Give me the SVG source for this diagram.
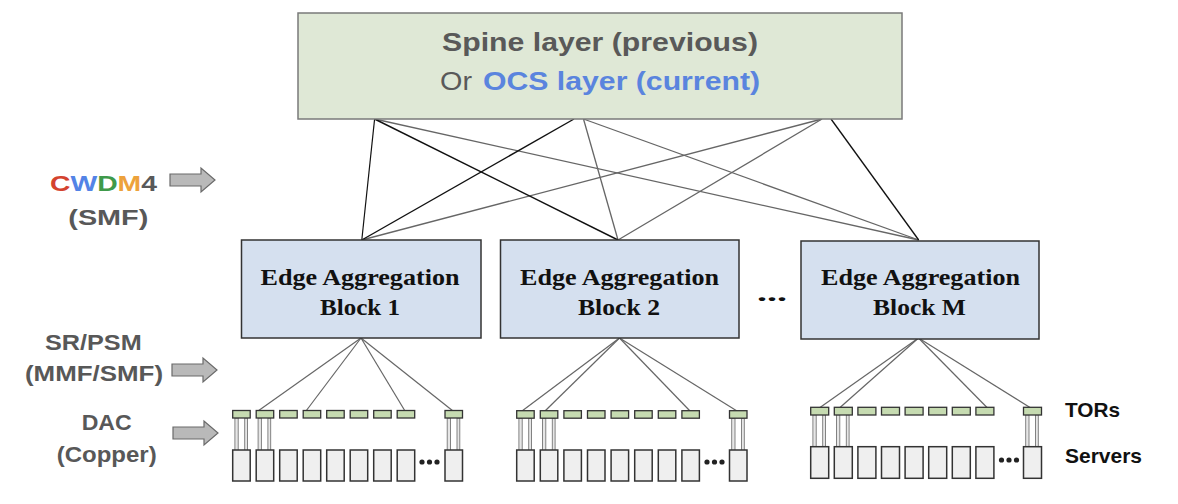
<svg xmlns="http://www.w3.org/2000/svg" width="1178" height="504" viewBox="0 0 1178 504">
<style>
  .sans { font-family: "Liberation Sans", Arial, sans-serif; font-weight: bold; }
  .serif { font-family: "Liberation Serif", "Times New Roman", serif; font-weight: bold; fill: #111; font-size: 23px; }
  .lbl { fill: #585858; font-size: 22px; }
  .blk { fill: #d5e0ef; stroke: #333; stroke-width: 1.5; }
  .tor { fill: #c6dbb1; stroke: #333; stroke-width: 1.3; }
  .srv { fill: #efefef; stroke: #333; stroke-width: 1.5; }
  .cab { fill: #e6e6e6; stroke: #777; stroke-width: 0.9; }
  .dl { stroke: #666; stroke-width: 1.2; fill: none; }
  .blackln { stroke: #111; stroke-width: 1.4; fill: none; }
  .grayln { stroke: #666; stroke-width: 1.3; fill: none; }
  .arr { fill: #b9b9b9; stroke: #6a6a6a; stroke-width: 1.2; }
</style>
<defs>
  <path id="barrow" d="M0,-6 H31 V-12 L45,0 L31,12 V6 H0 Z"/>
  <g id="torcab">
    <rect class="cab" x="2.2" y="7.5" width="3.3" height="38.5"/>
    <rect class="cab" x="12" y="7.5" width="2.8" height="59"/>
  </g>
</defs>
<rect width="1178" height="504" fill="#ffffff"/>

<!-- connectors -->
<g id="connectors">
  <line class="grayln" x1="374.6" y1="119" x2="918.7" y2="240"/>
  <line class="grayln" x1="583.5" y1="119" x2="618" y2="240"/>
  <line class="grayln" x1="583.5" y1="119" x2="918.7" y2="240"/>
  <line class="grayln" x1="822" y1="119" x2="361.8" y2="240"/>
  <line class="grayln" x1="822" y1="119" x2="618" y2="240"/>
  <line class="blackln" x1="374.6" y1="119" x2="361.8" y2="240" style="stroke-width:1.2"/>
  <line class="blackln" x1="374.6" y1="119" x2="618" y2="240"/>
  <line class="blackln" x1="574" y1="119" x2="361.8" y2="240"/>
  <line class="blackln" x1="831" y1="119" x2="918.7" y2="240" style="stroke-width:1.3"/>

  <line class="dl" x1="361" y1="338" x2="258" y2="411"/>
  <line class="dl" x1="361" y1="338" x2="306" y2="411"/>
  <line class="dl" x1="361" y1="338" x2="405" y2="411"/>
  <line class="dl" x1="361" y1="338" x2="453" y2="411"/>

  <line class="dl" x1="619.5" y1="338" x2="522" y2="411"/>
  <line class="dl" x1="619.5" y1="338" x2="545" y2="411"/>
  <line class="dl" x1="619.5" y1="338" x2="690" y2="411"/>
  <line class="dl" x1="619.5" y1="338" x2="737" y2="411"/>

  <line class="dl" x1="918.5" y1="338" x2="820" y2="407.5"/>
  <line class="dl" x1="918.5" y1="338" x2="840" y2="407.5"/>
  <line class="dl" x1="918.5" y1="338" x2="987" y2="407.5"/>
  <line class="dl" x1="918.5" y1="338" x2="1030" y2="407.5"/>
</g>

<!-- spine -->
<g id="spine">
  <rect x="298" y="13" width="604" height="106" fill="#dfe8d6" stroke="#7a7a7a" stroke-width="1.5"/>
  <text class="sans" x="442" y="51" font-size="26" fill="#595959" textLength="316" lengthAdjust="spacingAndGlyphs">Spine layer (previous)</text>
  <text x="440" y="90" font-family="Liberation Sans, Arial, sans-serif" font-size="26" fill="#595959" textLength="32" lengthAdjust="spacingAndGlyphs">Or</text>
  <text class="sans" x="483" y="90" font-size="26" fill="#5a84de" textLength="277" lengthAdjust="spacingAndGlyphs">OCS layer (current)</text>
</g>

<!-- edge aggregation blocks -->
<g id="block1">
  <rect class="blk" x="241.5" y="240" width="239.5" height="98"/>
  <text class="serif" x="260.5" y="285" textLength="199" lengthAdjust="spacingAndGlyphs">Edge Aggregation</text>
  <text class="serif" x="320" y="315" textLength="80" lengthAdjust="spacingAndGlyphs">Block 1</text>
</g>
<g id="block2">
  <rect class="blk" x="500.5" y="240" width="238.5" height="98"/>
  <text class="serif" x="520" y="285" textLength="199" lengthAdjust="spacingAndGlyphs">Edge Aggregation</text>
  <text class="serif" x="578" y="315" textLength="82" lengthAdjust="spacingAndGlyphs">Block 2</text>
</g>
<text id="block-ellipsis" class="serif" x="757" y="301" textLength="30" lengthAdjust="spacingAndGlyphs">...</text>
<g id="blockM">
  <rect class="blk" x="801" y="241" width="238" height="98"/>
  <text class="serif" x="821" y="285" textLength="199" lengthAdjust="spacingAndGlyphs">Edge Aggregation</text>
  <text class="serif" x="873" y="315" textLength="93" lengthAdjust="spacingAndGlyphs">Block M</text>
</g>

<!-- TORs and servers, group 1 -->
<g id="rack1">
  <g id="rack1-cables">
    <use href="#torcab" x="232.7" y="410.5"/>
    <use href="#torcab" x="255.9" y="410.5"/>
    <use href="#torcab" x="445" y="410.5"/>
  </g>
  <g id="rack1-servers">
    <rect class="srv" x="232.7" y="450" width="17.5" height="31"/>
    <rect class="srv" x="256.2" y="450" width="17.5" height="31"/>
    <rect class="srv" x="279.7" y="450" width="17.5" height="31"/>
    <rect class="srv" x="303.2" y="450" width="17.5" height="31"/>
    <rect class="srv" x="326.7" y="450" width="17.5" height="31"/>
    <rect class="srv" x="350.2" y="450" width="17.5" height="31"/>
    <rect class="srv" x="373.7" y="450" width="17.5" height="31"/>
    <rect class="srv" x="397.2" y="450" width="17.5" height="31"/>
    <rect class="srv" x="445" y="450" width="17.5" height="31"/>
    <circle cx="422" cy="462" r="2.6" fill="#222"/>
    <circle cx="429.5" cy="462" r="2.6" fill="#222"/>
    <circle cx="437" cy="462" r="2.6" fill="#222"/>
  </g>
  <g id="rack1-tors">
    <rect class="tor" x="232.7" y="410.5" width="17.5" height="7.5"/>
    <rect class="tor" x="256.2" y="410.5" width="17.5" height="7.5"/>
    <rect class="tor" x="279.7" y="410.5" width="17.5" height="7.5"/>
    <rect class="tor" x="303.2" y="410.5" width="17.5" height="7.5"/>
    <rect class="tor" x="326.7" y="410.5" width="17.5" height="7.5"/>
    <rect class="tor" x="350.2" y="410.5" width="17.5" height="7.5"/>
    <rect class="tor" x="373.7" y="410.5" width="17.5" height="7.5"/>
    <rect class="tor" x="397.2" y="410.5" width="17.5" height="7.5"/>
    <rect class="tor" x="445" y="410.5" width="17.5" height="7.5"/>
  </g>
</g>

<!-- group 2 -->
<g id="rack2">
  <g id="rack2-cables">
    <use href="#torcab" x="516.7" y="410.7"/>
    <use href="#torcab" x="540.3" y="410.7"/>
    <use href="#torcab" x="729.5" y="410.7"/>
  </g>
  <g id="rack2-servers">
    <rect class="srv" x="516.7" y="450" width="17.5" height="31"/>
    <rect class="srv" x="540.3" y="450" width="17.5" height="31"/>
    <rect class="srv" x="563.9" y="450" width="17.5" height="31"/>
    <rect class="srv" x="587.5" y="450" width="17.5" height="31"/>
    <rect class="srv" x="611.1" y="450" width="17.5" height="31"/>
    <rect class="srv" x="634.7" y="450" width="17.5" height="31"/>
    <rect class="srv" x="658.3" y="450" width="17.5" height="31"/>
    <rect class="srv" x="681.9" y="450" width="17.5" height="31"/>
    <rect class="srv" x="729.5" y="450" width="17.5" height="31"/>
    <circle cx="707" cy="462" r="2.6" fill="#222"/>
    <circle cx="714.5" cy="462" r="2.6" fill="#222"/>
    <circle cx="722" cy="462" r="2.6" fill="#222"/>
  </g>
  <g id="rack2-tors">
    <rect class="tor" x="516.7" y="410.7" width="17.5" height="7.5"/>
    <rect class="tor" x="540.3" y="410.7" width="17.5" height="7.5"/>
    <rect class="tor" x="563.9" y="410.7" width="17.5" height="7.5"/>
    <rect class="tor" x="587.5" y="410.7" width="17.5" height="7.5"/>
    <rect class="tor" x="611.1" y="410.7" width="17.5" height="7.5"/>
    <rect class="tor" x="634.7" y="410.7" width="17.5" height="7.5"/>
    <rect class="tor" x="658.3" y="410.7" width="17.5" height="7.5"/>
    <rect class="tor" x="681.9" y="410.7" width="17.5" height="7.5"/>
    <rect class="tor" x="729.5" y="410.7" width="17.5" height="7.5"/>
  </g>
</g>

<!-- group M -->
<g id="rackM">
  <g id="rackM-cables">
    <use href="#torcab" x="810.7" y="407.3"/>
    <use href="#torcab" x="834.3" y="407.3"/>
    <use href="#torcab" x="1023.5" y="407.3"/>
  </g>
  <g id="rackM-servers">
    <rect class="srv" x="810.7" y="446.7" width="18" height="31.6"/>
    <rect class="srv" x="834.3" y="446.7" width="18" height="31.6"/>
    <rect class="srv" x="857.9" y="446.7" width="18" height="31.6"/>
    <rect class="srv" x="881.5" y="446.7" width="18" height="31.6"/>
    <rect class="srv" x="905.1" y="446.7" width="18" height="31.6"/>
    <rect class="srv" x="928.7" y="446.7" width="18" height="31.6"/>
    <rect class="srv" x="952.3" y="446.7" width="18" height="31.6"/>
    <rect class="srv" x="975.9" y="446.7" width="18" height="31.6"/>
    <rect class="srv" x="1023.5" y="446.7" width="18" height="31.6"/>
    <circle cx="1001.5" cy="460" r="2.6" fill="#222"/>
    <circle cx="1009" cy="460" r="2.6" fill="#222"/>
    <circle cx="1016.5" cy="460" r="2.6" fill="#222"/>
  </g>
  <g id="rackM-tors">
    <rect class="tor" x="810.7" y="407.3" width="18" height="7.7"/>
    <rect class="tor" x="834.3" y="407.3" width="18" height="7.7"/>
    <rect class="tor" x="857.9" y="407.3" width="18" height="7.7"/>
    <rect class="tor" x="881.5" y="407.3" width="18" height="7.7"/>
    <rect class="tor" x="905.1" y="407.3" width="18" height="7.7"/>
    <rect class="tor" x="928.7" y="407.3" width="18" height="7.7"/>
    <rect class="tor" x="952.3" y="407.3" width="18" height="7.7"/>
    <rect class="tor" x="975.9" y="407.3" width="18" height="7.7"/>
    <rect class="tor" x="1023.5" y="407.3" width="18" height="7.7"/>
  </g>
</g>

<!-- right labels -->
<g id="right-labels">
  <text class="sans" x="1065" y="416.5" font-size="21" fill="#111" textLength="55" lengthAdjust="spacingAndGlyphs">TORs</text>
  <text class="sans" x="1065" y="463" font-size="21" fill="#111" textLength="77" lengthAdjust="spacingAndGlyphs">Servers</text>
</g>

<!-- left labels -->
<g id="label-cwdm4">
  <text class="sans lbl" x="50" y="190.5" textLength="107" lengthAdjust="spacingAndGlyphs"><tspan fill="#d4432f">C</tspan><tspan fill="#5383e6">W</tspan><tspan fill="#3f9a4a">D</tspan><tspan fill="#eda23b">M</tspan><tspan fill="#595959">4</tspan></text>
  <text class="sans lbl" x="68.3" y="225" textLength="80" lengthAdjust="spacingAndGlyphs">(SMF)</text>
  <use href="#barrow" class="arr" x="170" y="180"/>
</g>
<g id="label-sr">
  <text class="sans lbl" x="45" y="350" textLength="96.7" lengthAdjust="spacingAndGlyphs">SR/PSM</text>
  <text class="sans lbl" x="25" y="380.5" textLength="138" lengthAdjust="spacingAndGlyphs">(MMF/SMF)</text>
  <use href="#barrow" class="arr" x="172" y="370"/>
</g>
<g id="label-dac">
  <text class="sans lbl" x="81.7" y="430" textLength="50" lengthAdjust="spacingAndGlyphs">DAC</text>
  <text class="sans lbl" x="56.7" y="462" textLength="100" lengthAdjust="spacingAndGlyphs">(Copper)</text>
  <use href="#barrow" class="arr" x="173" y="433"/>
</g>
</svg>
